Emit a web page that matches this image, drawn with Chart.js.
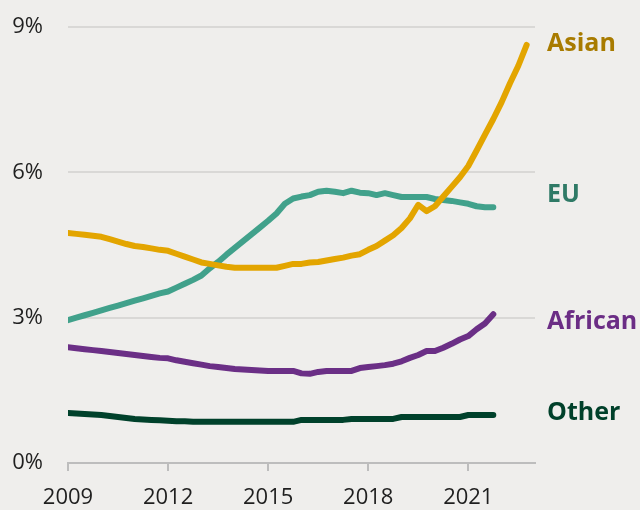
<!DOCTYPE html>
<html>
<head>
<meta charset="utf-8">
<script src="https://cdn.jsdelivr.net/npm/chart.js@4/dist/chart.umd.min.js"></script>
<style>
html,body{margin:0;padding:0;background:#efeeec;}
#wrap{width:640px;height:510px;position:relative;}
</style>
</head>
<body>
<div id="wrap"><canvas id="c" width="640" height="510"></canvas></div>
<script>
const quarters = [
 2009,2009.25,2009.5,2009.75,2010,2010.25,2010.5,2010.75,
 2011,2011.25,2011.5,2011.75,2012,2012.25,2012.5,2012.75,
 2013,2013.25,2013.5,2013.75,2014,2014.25,2014.5,2014.75,
 2015,2015.25,2015.5,2015.75,2016,2016.25,2016.5,2016.75,
 2017,2017.25,2017.5,2017.75,2018,2018.25,2018.5,2018.75,
 2019,2019.25,2019.5,2019.75,2020,2020.25,2020.5,2020.75,
 2021,2021.25,2021.5,2021.75,2022,2022.25,2022.5,2022.75
];
const asian = [
 4.75,4.73,4.71,4.69,4.67,4.62,4.57,4.52,
 4.48,4.46,4.43,4.40,4.38,4.32,4.26,4.20,
 4.14,4.11,4.08,4.05,4.03,4.03,4.03,4.03,
 4.03,4.03,4.07,4.11,4.11,4.14,4.15,4.18,
 4.21,4.24,4.28,4.31,4.40,4.48,4.59,4.70,
 4.85,5.05,5.33,5.20,5.30,5.50,5.70,5.90,
 6.13,6.45,6.78,7.10,7.45,7.84,8.20,8.63
];
const eu = [
 2.95,3.00,3.05,3.10,3.15,3.20,3.25,3.30,
 3.35,3.40,3.45,3.50,3.54,3.62,3.70,3.78,
 3.87,4.02,4.15,4.30,4.44,4.58,4.72,4.86,
 5.00,5.15,5.35,5.46,5.50,5.53,5.60,5.62,
 5.60,5.57,5.62,5.58,5.57,5.53,5.57,5.53,
 5.49,5.49,5.49,5.49,5.45,5.43,5.41,5.38,
 5.35,5.30,5.28,5.28,null,null,null,null
];
const african = [
 2.39,2.37,2.35,2.33,2.31,2.29,2.27,2.25,
 2.23,2.21,2.19,2.17,2.16,2.12,2.09,2.06,
 2.03,2.00,1.98,1.96,1.94,1.93,1.92,1.91,
 1.90,1.90,1.90,1.90,1.85,1.84,1.88,1.90,
 1.90,1.90,1.90,1.96,1.98,2.00,2.02,2.05,
 2.10,2.17,2.23,2.31,2.31,2.38,2.46,2.55,
 2.62,2.76,2.88,3.07,null,null,null,null
];
const other = [
 1.03,1.02,1.01,1.00,0.99,0.97,0.95,0.93,
 0.91,0.90,0.89,0.88,0.87,0.86,0.86,0.85,
 0.85,0.85,0.85,0.85,0.85,0.85,0.85,0.85,
 0.85,0.85,0.85,0.85,0.89,0.89,0.89,0.89,
 0.89,0.89,0.91,0.91,0.91,0.91,0.91,0.91,
 0.95,0.95,0.95,0.95,0.95,0.95,0.95,0.95,
 0.99,0.99,0.99,0.99,null,null,null,null
];
const seriesNames = ['Asian','EU','African','Other'];
const xTickYears = [2009,2012,2015,2018,2021];
const yTickValues = [0,3,6,9];

const lineColors = ['#e3a500','#41a18b','#6b2f86','#00412b'];
const labelColors = ['#a87b00','#2f7a66','#6b2d85','#00402a'];
const labelYOffsets = [-1,-12,8,-2];

function pts(arr){ return quarters.map((q,i)=>({x:q,y:arr[i]})).filter(p=>p.y!==null); }
const allSeries = [asian, eu, african, other];

const endLabels = {
  id:'endLabels',
  afterDatasetsDraw(chart){
    const ctx = chart.ctx;
    const area = chart.chartArea;
    ctx.save();
    ctx.font = 'bold 25px "Open Sans"';
    ctx.textBaseline = 'middle';
    ctx.textAlign = 'left';
    chart.data.datasets.forEach((ds,i)=>{
      const meta = chart.getDatasetMeta(i);
      const last = meta.data[meta.data.length-1];
      ctx.fillStyle = labelColors[i];
      ctx.fillText(seriesNames[i], area.right + 12, last.y + labelYOffsets[i]);
    });
    ctx.restore();
  }
};

new Chart(document.getElementById('c'), {
  type:'line',
  data:{
    datasets: allSeries.map((s,i)=>({
      label: seriesNames[i],
      data: pts(s),
      borderColor: lineColors[i],
      borderWidth: 6,
      pointRadius: 0,
      tension: 0,
      fill:false,
      borderCapStyle:'round',
      borderJoinStyle:'round'
    }))
  },
  options:{
    responsive:false,
    animation:false,
    layout:{padding:{left:0,right:105,top:27,bottom:0}},
    plugins:{legend:{display:false},tooltip:{enabled:false}},
    scales:{
      x:{
        type:'linear',
        min:2009,max:2023,
        afterBuildTicks(scale){ scale.ticks = xTickYears.map(v=>({value:v})); },
        grid:{display:true,drawOnChartArea:false,drawTicks:true,tickLength:8,color:'#bdbdbd',lineWidth:2},
        border:{display:true,color:'#bdbdbd',width:2},
        ticks:{
          color:'#1f1f1f',
          font:{family:'"Open Sans"',size:22},
          padding:14,
          maxRotation:0,
          callback:(v)=>String(v)
        },
        afterFit(scale){ scale.height = 47; scale.paddingLeft = 0; scale.paddingRight = 0; }
      },
      y:{
        min:0,max:9,
        afterBuildTicks(scale){ scale.ticks = yTickValues.map(v=>({value:v})); },
        grid:{color:'#d9d8d6',lineWidth:2,drawTicks:false},
        border:{display:false},
        ticks:{
          color:'#1f1f1f',
          font:{family:'"Open Sans"',size:22},
          padding:25,
          callback:(v)=>v+'%'
        },
        afterFit(scale){ scale.width = 68; scale.paddingTop = 0; scale.paddingBottom = 0; }
      }
    }
  },
  plugins:[endLabels]
});
</script>
</body>
</html>
